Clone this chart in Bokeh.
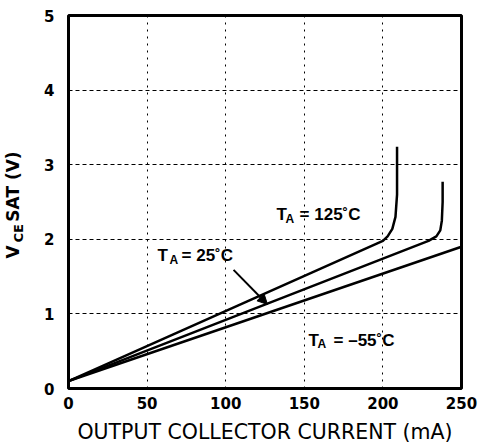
import math
from bokeh.plotting import figure
from bokeh.models import Label, Arrow, NormalHead, FixedTicker, Title
from bokeh.embed import file_html
from bokeh.resources import INLINE

# ---- data ----
x_ticks = [0, 50, 100, 150, 200, 250]
y_ticks = [0, 1, 2, 3, 4, 5]

i_125 = [0, 200, 203, 206, 208, 209, 209]
v_125 = [0.1, 1.98, 2.04, 2.14, 2.3, 2.6, 3.24]

i_25 = [0, 229, 234, 236.5, 237.5, 238, 238]
v_25 = [0.1, 1.98, 2.04, 2.12, 2.25, 2.5, 2.77]

i_m55 = [0, 250]
v_m55 = [0.1, 1.9]

FONT = "Liberation Sans"
WIDE = "DejaVu Sans"

p = figure(width=478, height=446, x_range=(0, 250), y_range=(0, 5),
           output_backend="svg", toolbar_location=None,
           min_border_left=68, min_border_right=17, min_border_top=15, min_border_bottom=54)
p.background_fill_color = "white"
p.border_fill_color = "white"
p.outline_line_color = "black"
p.outline_line_width = 3

# grid
p.xgrid.ticker = FixedTicker(ticks=x_ticks[1:-1])
p.ygrid.ticker = FixedTicker(ticks=y_ticks[1:-1])
p.xgrid.grid_line_color = "black"
p.xgrid.grid_line_dash = "2 5"
p.xgrid.grid_line_width = 1
p.ygrid.grid_line_color = "black"
p.ygrid.grid_line_dash = "4 3"
p.ygrid.grid_line_width = 1

# axes
p.xaxis.ticker = FixedTicker(ticks=x_ticks)
p.yaxis.ticker = FixedTicker(ticks=y_ticks)
for ax in (p.xaxis[0], p.yaxis[0]):
    ax.axis_line_color = None
    ax.major_tick_line_color = None
    ax.minor_tick_line_color = None
    ax.major_tick_out = 0
    ax.major_tick_in = 0
    ax.minor_tick_out = 0
    ax.minor_tick_in = 0
    ax.major_label_text_font = WIDE
    ax.major_label_text_font_size = "15px"
    ax.major_label_text_font_style = "bold"
    ax.major_label_text_color = "black"
p.xaxis.major_label_standoff = 8
p.yaxis.major_label_standoff = 14
p.xaxis.axis_label = "OUTPUT COLLECTOR CURRENT (mA)"
p.xaxis.axis_label_text_font = WIDE
p.xaxis.axis_label_text_font_size = "20.5px"
p.xaxis.axis_label_text_font_style = "normal"
p.xaxis.axis_label_text_color = "black"
p.xaxis.axis_label_standoff = 8

# spacer between tick labels and the y title
p.yaxis.axis_label = "\u00a0"
p.yaxis.axis_label_text_font_size = "2px"
p.yaxis.axis_label_standoff = 10

# y axis title: V_CE SAT (V) built from two left-side titles
t_ce = Title(text="CE", align="left", offset=146, standoff=0,
             text_font=WIDE, text_font_size="13px", text_font_style="bold",
             text_color="black")
t_v = Title(text="V\u00a0\u00a0\u00a0\u00a0SAT (V)", align="left", offset=130, standoff=-28,
            text_font=WIDE, text_font_size="17px", text_font_style="bold",
            text_color="black")
p.add_layout(t_ce, "left")
p.add_layout(t_v, "left")

# curves
p.line(i_125, v_125, line_color="black", line_width=2.5)
p.line(i_25, v_25, line_color="black", line_width=2.5)
p.line(i_m55, v_m55, line_color="black", line_width=2.5)

def lab(x, y, t, size):
    p.add_layout(Label(x=x, y=y, text=t, text_font=FONT, text_font_size=size,
                       text_font_style="bold", text_color="black",
                       text_align="left", text_baseline="alphabetic"))

lab(132.3, 2.334, "T", "17px")
lab(138.0, 2.268, "A", "12px")
lab(147.0, 2.334, "= 125˚C", "17px")

lab(56.6, 1.777, "T", "17px")
lab(64.2, 1.724, "A", "12px")
lab(71.9, 1.777, "= 25˚C", "17px")

lab(152.7, 0.65, "T", "17px")
lab(158.4, 0.597, "A", "12px")
lab(168.6, 0.65, "= –55˚C", "17px")

p.add_layout(Arrow(x_start=105, y_start=1.59, x_end=126.6, y_end=1.127,
                   line_color="black", line_width=2,
                   end=NormalHead(size=10, fill_color="black", line_color="black")))

open("out.html", "w").write(file_html(p, INLINE))
